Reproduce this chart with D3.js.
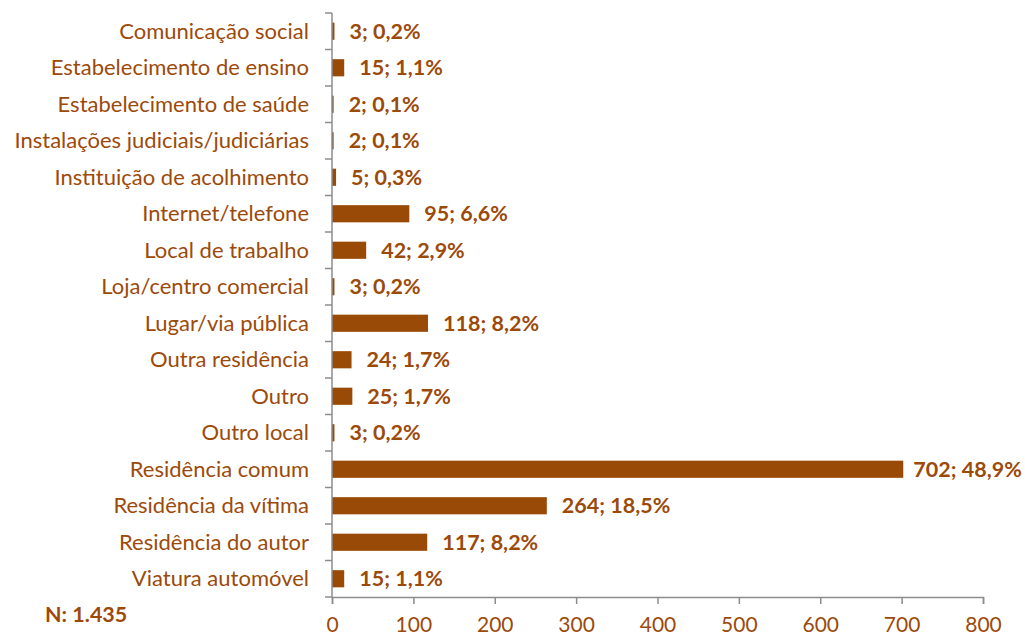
<!DOCTYPE html>
<html>
<head>
<meta charset="utf-8">
<script src="https://cdn.jsdelivr.net/npm/d3@7.9.0/dist/d3.min.js"></script>
<style>
  body { margin: 0; background: #fff; }
  svg text { font-family: Lato, "Open Sans", sans-serif; fill: #9c4a0a; }
</style>
</head>
<body>
<svg id="chart" width="1025" height="635"></svg>
<script>
const categories = [
  'Comunicação social', 'Estabelecimento de ensino', 'Estabelecimento de saúde',
  'Instalações judiciais/judiciárias', 'Instituição de acolhimento', 'Internet/telefone',
  'Local de trabalho', 'Loja/centro comercial', 'Lugar/via pública', 'Outra residência',
  'Outro', 'Outro local', 'Residência comum', 'Residência da vítima',
  'Residência do autor', 'Viatura automóvel'
];
const counts = [3, 15, 2, 2, 5, 95, 42, 3, 118, 24, 25, 3, 702, 264, 117, 15];
const percents = ['0,2%', '1,1%', '0,1%', '0,1%', '0,3%', '6,6%', '2,9%', '0,2%', '8,2%', '1,7%', '1,7%', '0,2%', '48,9%', '18,5%', '8,2%', '1,1%'];
const xTicks = [0, 100, 200, 300, 400, 500, 600, 700, 800];
const totalLabel = 'N: 1.435';

const svg = d3.select('#chart');
const barColor = '#994a07';
const axisColor = '#8c8c8c';

const x = d3.scaleLinear().domain([0, 800]).range([332, 983]);
const y = d3.scaleBand().domain(categories).range([13, 597]).paddingInner(0.53).paddingOuter(0.265);

// bars
svg.selectAll('rect.bar').data(categories).join('rect')
  .attr('class', 'bar')
  .attr('x', x(0))
  .attr('y', d => y(d))
  .attr('width', (d, i) => x(counts[i]) - x(0))
  .attr('height', y.bandwidth())
  .attr('fill', barColor);

// value labels
svg.selectAll('text.val').data(categories).join('text')
  .attr('class', 'val')
  .attr('x', (d, i) => x(counts[i]) + (counts[i] > 600 ? 10 : 15))
  .attr('y', d => y(d) + y.bandwidth() / 2)
  .attr('dy', '0.35em')
  .attr('font-size', 21.5)
  .attr('font-weight', 'bold')
  .text((d, i) => counts[i] + '; ' + percents[i]);

// y axis line and ticks at band boundaries
const y0 = 13, y1 = 597;
svg.append('line').attr('x1', x(0)).attr('x2', x(0)).attr('y1', y0).attr('y2', y1)
  .attr('stroke', axisColor).attr('stroke-width', 1.5);
d3.range(categories.length + 1).forEach(i => {
  const yy = y0 + i * (y1 - y0) / categories.length;
  svg.append('line').attr('x1', x(0) - 7).attr('x2', x(0)).attr('y1', yy).attr('y2', yy)
    .attr('stroke', axisColor).attr('stroke-width', 1.5);
});

// category labels
svg.selectAll('text.cat').data(categories).join('text')
  .attr('class', 'cat')
  .attr('x', 309)
  .attr('y', d => y(d) + y.bandwidth() / 2)
  .attr('dy', '0.35em')
  .attr('text-anchor', 'end')
  .attr('font-size', 22)
  .text(d => d);

// x axis
const xAxis = svg.append('g').attr('transform', `translate(0,${y1})`)
  .call(d3.axisBottom(x).tickValues(xTicks).tickSize(7).tickPadding(13).tickFormat(d3.format('d')));
xAxis.select('.domain').attr('stroke', axisColor).attr('stroke-width', 1.5);
xAxis.selectAll('.tick line').attr('stroke', axisColor).attr('stroke-width', 1.5);
xAxis.selectAll('.tick text').attr('font-size', 21).attr('font-family', 'Lato, sans-serif').attr('fill', '#9c4a0a');

// total
svg.append('text').attr('x', 45).attr('y', 622)
  .attr('font-size', 21.5).attr('font-weight', 'bold').text(totalLabel);
</script>
</body>
</html>
